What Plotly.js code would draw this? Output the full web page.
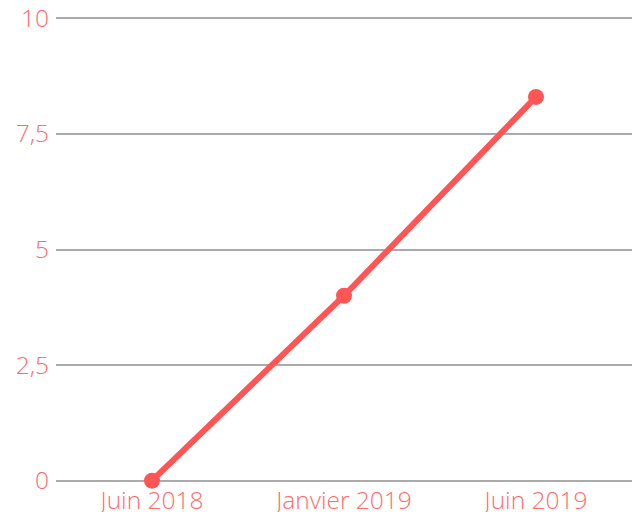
<!DOCTYPE html>
<html><head><meta charset="utf-8">
<script src="https://cdn.plot.ly/plotly-3.0.1.min.js"></script>
<style>html,body{margin:0;padding:0;background:#fff}#c{width:639px;height:512px}</style>
</head><body><div id="c"></div>
<script>
const categories = ["Juin 2018", "Janvier 2019", "Juin 2019"];
const values = [0, 4, 8.3];
const yTickVals = [0, 2.5, 5, 7.5, 10];
const yTickText = ["0", "2,5", "5", "7,5", "10"];

const labelFont = {family: "Open Sans", size: 24.5, color: "#ff6b6b", weight: 300};
Plotly.newPlot("c", [{
  x: categories, y: values, type: "scatter", mode: "lines+markers",
  line: {color: "#ff5555", width: 6},
  marker: {color: "#ff5555", size: 16},
  cliponaxis: false, hoverinfo: "none"
}], {
  width: 639, height: 512,
  margin: {l: 56, r: 7, t: 16, b: 29, pad: 0},
  paper_bgcolor: "#fff", plot_bgcolor: "#fff",
  showlegend: false,
  xaxis: {type: "category", range: [-0.5, 2.5], showgrid: false, zeroline: false,
    showline: false, ticks: "", tickfont: labelFont, fixedrange: true, ticklabelstandoff: 0},
  yaxis: {range: [-0.05, 10.05], tickvals: yTickVals, ticktext: yTickText, showgrid: true,
    gridcolor: "#aaaaaa", gridwidth: 2, zeroline: false, showline: false, ticks: "",
    tickfont: labelFont, fixedrange: true, ticklabelstandoff: 6}
}, {staticPlot: true});
</script></body></html>
